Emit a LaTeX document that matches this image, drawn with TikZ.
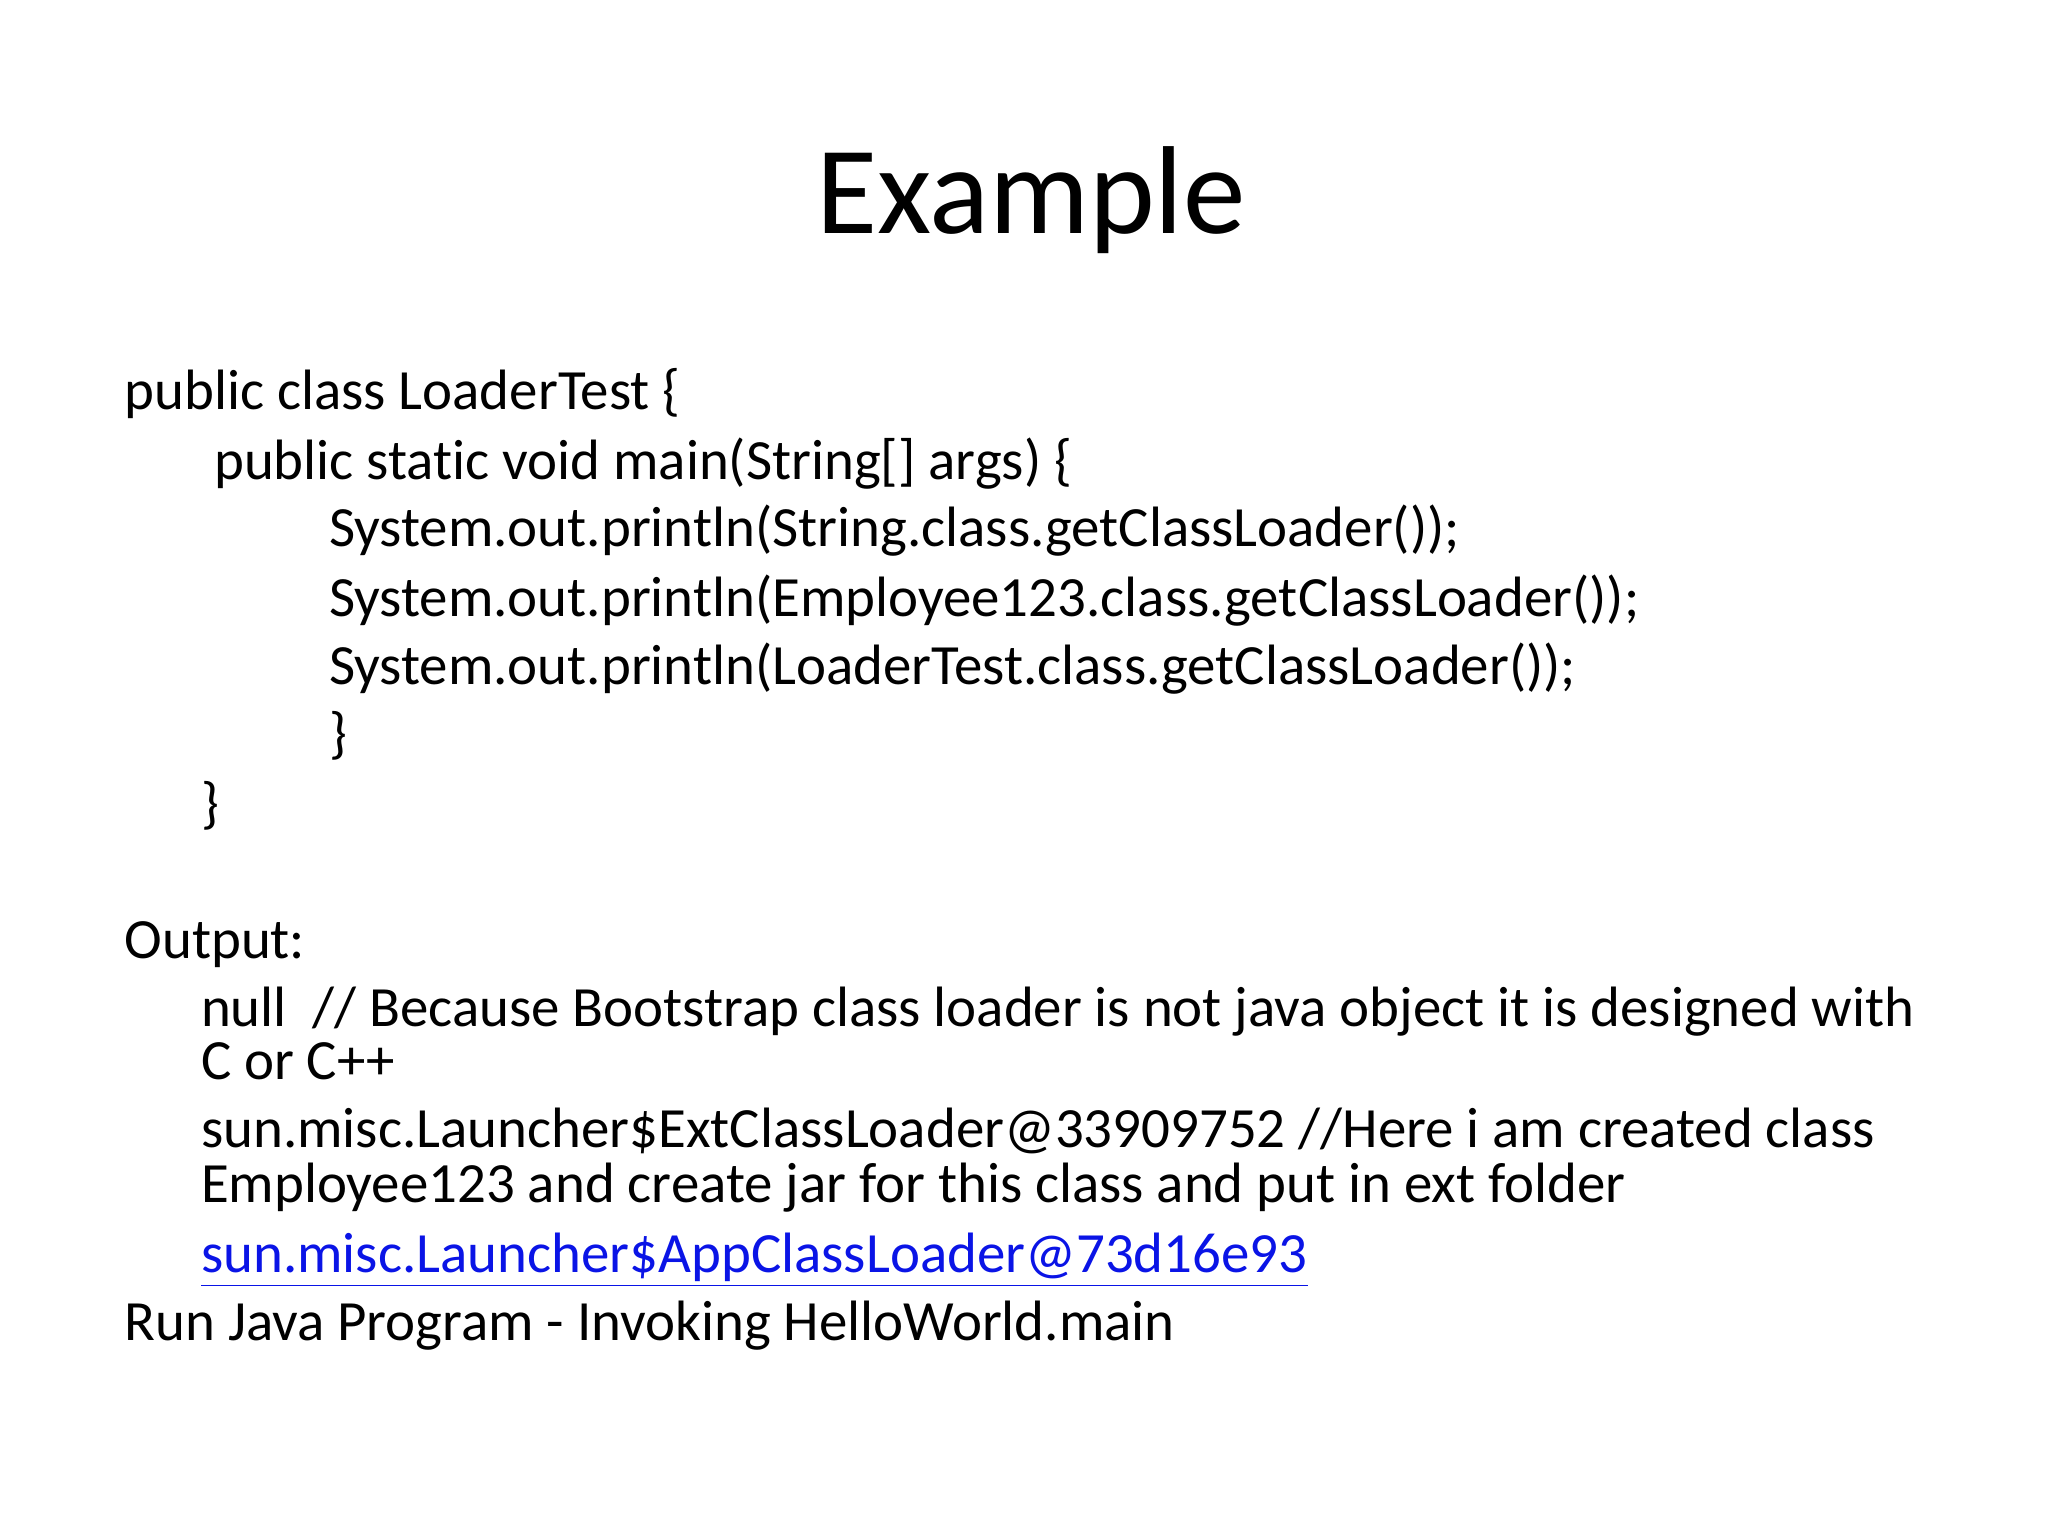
\documentclass[tikz,border=0pt]{standalone}
\usepackage{fontspec}
\setmainfont[Ligatures=NoCommon]{Carlito}
\definecolor{linkblue}{RGB}{10,20,230}
\begin{document}
\begin{tikzpicture}[x=1pt,y=1pt,
  txt/.style={anchor=base west,inner sep=0pt,font=\fontsize{20}{24}\selectfont}]
\useasboundingbox (0,0) rectangle (720,-540);
\node[anchor=base,inner sep=0pt,font=\fontsize{44}{50}\selectfont] (title) at (362.5,-82.0) {Example};
\node[txt] (l1) at (43.6,-144.0) {public class LoaderTest \{};
\node[txt] (l2) at (75.1,-168.4) {public static void main(String[] args) \{};
\node[txt] (l3) at (115.5,-192.3) {System.out.println(String.class.getClassLoader());};
\node[txt] (l4) at (115.5,-216.7) {System.out.println(Employee123.class.getClassLoader());};
\node[txt] (l5) at (115.5,-240.7) {System.out.println(LoaderTest.class.getClassLoader());};
\node[txt] (l6) at (115.5,-264.7) {\}};
\node[txt] (l7) at (70.5,-289.0) {\}};
\node[txt] (o0) at (43.6,-337.0) {Output:};
\node[txt] (o1) at (70.5,-360.8) {null\ \ // Because Bootstrap class loader is not java object it is designed with};
\node[txt] (o2) at (70.5,-379.6) {C or C++};
\node[txt] (o3) at (70.5,-403.5) {sun.misc.Launcher\$ExtClassLoader@33909752 //Here i am created class};
\node[txt] (o4) at (70.5,-422.9) {Employee123 and create jar for this class and put in ext folder};
\node[txt,text=linkblue] (o5) at (70.5,-447.3) {\underline{sun.misc.Launcher\$AppClassLoader@73d16e93}};
\node[txt] (o6) at (43.6,-471.2) {Run Java Program - Invoking HelloWorld.main};
\end{tikzpicture}
\end{document}
